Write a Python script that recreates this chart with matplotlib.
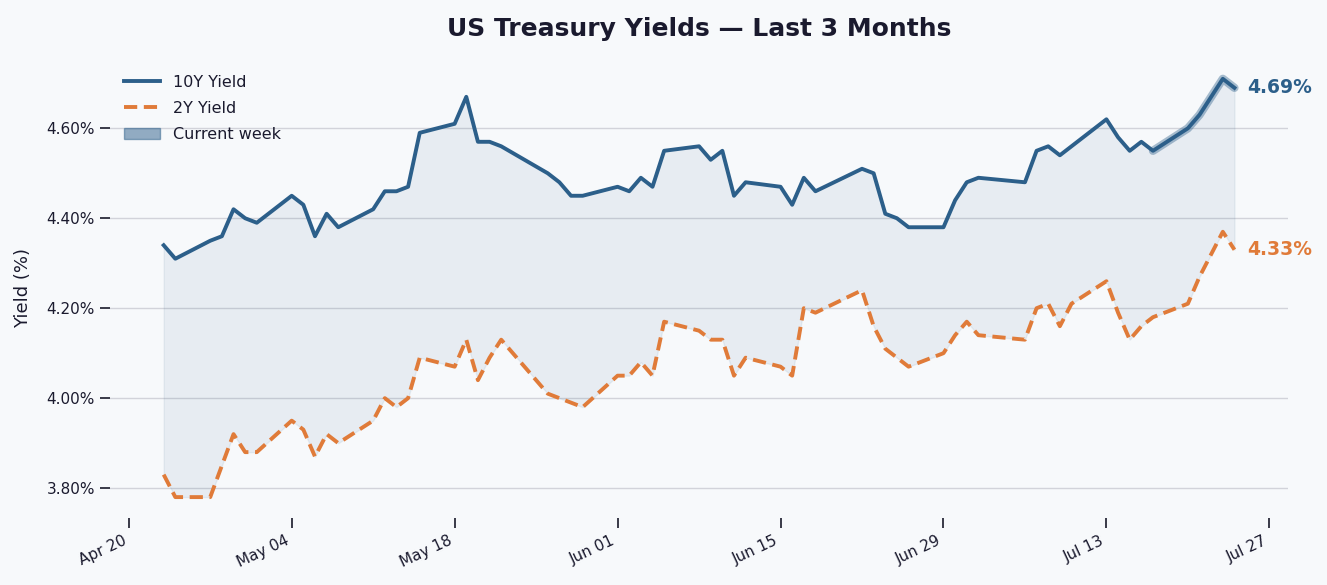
import matplotlib
matplotlib.use("Agg")
import matplotlib.pyplot as plt
import matplotlib.dates as mdates
from matplotlib.patches import Patch
from matplotlib.ticker import MultipleLocator, FuncFormatter
import pandas as pd

dates = [
    "2026-04-23", "2026-04-24",
    "2026-04-27", "2026-04-28", "2026-04-29", "2026-04-30", "2026-05-01",
    "2026-05-04", "2026-05-05", "2026-05-06", "2026-05-07", "2026-05-08",
    "2026-05-11", "2026-05-12", "2026-05-13", "2026-05-14", "2026-05-15",
    "2026-05-18", "2026-05-19", "2026-05-20", "2026-05-21", "2026-05-22",
    "2026-05-26", "2026-05-27", "2026-05-28", "2026-05-29",
    "2026-06-01", "2026-06-02", "2026-06-03", "2026-06-04", "2026-06-05",
    "2026-06-08", "2026-06-09", "2026-06-10", "2026-06-11", "2026-06-12",
    "2026-06-15", "2026-06-16", "2026-06-17", "2026-06-18",
    "2026-06-22", "2026-06-23", "2026-06-24", "2026-06-25", "2026-06-26",
    "2026-06-29", "2026-06-30", "2026-07-01", "2026-07-02",
    "2026-07-06", "2026-07-07", "2026-07-08", "2026-07-09", "2026-07-10",
    "2026-07-13", "2026-07-14", "2026-07-15", "2026-07-16", "2026-07-17",
    "2026-07-20", "2026-07-21", "2026-07-22", "2026-07-23", "2026-07-24",
]

yield_10y = [
    4.34, 4.31,
    4.35, 4.36, 4.42, 4.40, 4.39,
    4.45, 4.43, 4.36, 4.41, 4.38,
    4.42, 4.46, 4.46, 4.47, 4.59,
    4.61, 4.67, 4.57, 4.57, 4.56,
    4.50, 4.48, 4.45, 4.45,
    4.47, 4.46, 4.49, 4.47, 4.55,
    4.56, 4.53, 4.55, 4.45, 4.48,
    4.47, 4.43, 4.49, 4.46,
    4.51, 4.50, 4.41, 4.40, 4.38,
    4.38, 4.44, 4.48, 4.49,
    4.48, 4.55, 4.56, 4.54, 4.56,
    4.62, 4.58, 4.55, 4.57, 4.55,
    4.60, 4.63, 4.67, 4.71, 4.69,
]

yield_2y = [
    3.83, 3.78,
    3.78, 3.85, 3.92, 3.88, 3.88,
    3.95, 3.93, 3.87, 3.92, 3.90,
    3.95, 4.00, 3.98, 4.00, 4.09,
    4.07, 4.13, 4.04, 4.09, 4.13,
    4.01, 4.00, 3.99, 3.98,
    4.05, 4.05, 4.08, 4.05, 4.17,
    4.15, 4.13, 4.13, 4.05, 4.09,
    4.07, 4.05, 4.20, 4.19,
    4.24, 4.16, 4.11, 4.09, 4.07,
    4.10, 4.14, 4.17, 4.14,
    4.13, 4.20, 4.21, 4.16, 4.21,
    4.26, 4.19, 4.13, 4.16, 4.18,
    4.21, 4.27, 4.32, 4.37, 4.33,
]

current_week_points = 6

x_ticks = ["2026-04-20", "2026-05-04", "2026-05-18", "2026-06-01",
           "2026-06-15", "2026-06-29", "2026-07-13", "2026-07-27"]

C10 = "#2c5f8a"
C2 = "#e07b39"
BG = "#f7f9fb"
DARK = "#1a1a2e"

x = pd.to_datetime(dates)

fig = plt.figure(figsize=(13.27, 5.85), dpi=100, facecolor=BG)
ax = fig.add_axes([0.083, 0.1145, 0.8876, 0.7865])
ax.set_facecolor(BG)

ax.fill_between(x, yield_2y, yield_10y, color=C10, alpha=0.08, zorder=1)
ax.plot(x, yield_10y, color=C10, lw=2.8, label="10Y Yield", zorder=3)
ax.plot(x, yield_2y, color=C2, lw=2.8, ls=(0, (3.4, 1.7)), label="2Y Yield", zorder=3)
ax.plot(x[-current_week_points:], yield_10y[-current_week_points:], color=C10,
        lw=6.0, alpha=0.4, solid_capstyle="round", zorder=2)

ax.annotate(f"{yield_10y[-1]:.2f}%", xy=(x[-1], yield_10y[-1]), xytext=(9, 0),
            textcoords="offset points", va="center", ha="left",
            fontsize=13.5, fontweight="bold", color=C10)
ax.annotate(f"{yield_2y[-1]:.2f}%", xy=(x[-1], yield_2y[-1]), xytext=(9, 0),
            textcoords="offset points", va="center", ha="left",
            fontsize=13.5, fontweight="bold", color=C2)

ax.yaxis.set_major_locator(MultipleLocator(0.2))
ax.yaxis.set_major_formatter(FuncFormatter(lambda v, p: f"{v:.2f}%"))
ax.set_xticks(pd.to_datetime(x_ticks))
ax.xaxis.set_major_formatter(mdates.DateFormatter("%b %d"))
plt.setp(ax.get_xticklabels(), rotation=25, ha="right")

ax.grid(axis="y", color="#d2d3da", lw=1.0)
ax.set_axisbelow(True)
for s in ax.spines.values():
    s.set_visible(False)
ax.tick_params(axis="both", labelsize=11, colors="#2a2a3a", labelcolor=DARK,
               length=7, width=1.3, pad=4)

ax.set_ylabel("Yield (%)", fontsize=13, color=DARK, labelpad=10)
ax.set_title("US Treasury Yields — Last 3 Months", fontsize=18, fontweight="bold",
             color=DARK, pad=16)

handles, labels = ax.get_legend_handles_labels()
handles.append(Patch(facecolor=C10, edgecolor=C10, alpha=0.5))
labels.append("Current week")
leg = ax.legend(handles, labels, loc="upper left", bbox_to_anchor=(-0.0028, 1.0),
                frameon=False, fontsize=11.5,
                handlelength=2.3, borderaxespad=0.65, labelspacing=0.7)
for t in leg.get_texts():
    t.set_color(DARK)

fig.savefig("out.png", dpi=100, facecolor=BG)
